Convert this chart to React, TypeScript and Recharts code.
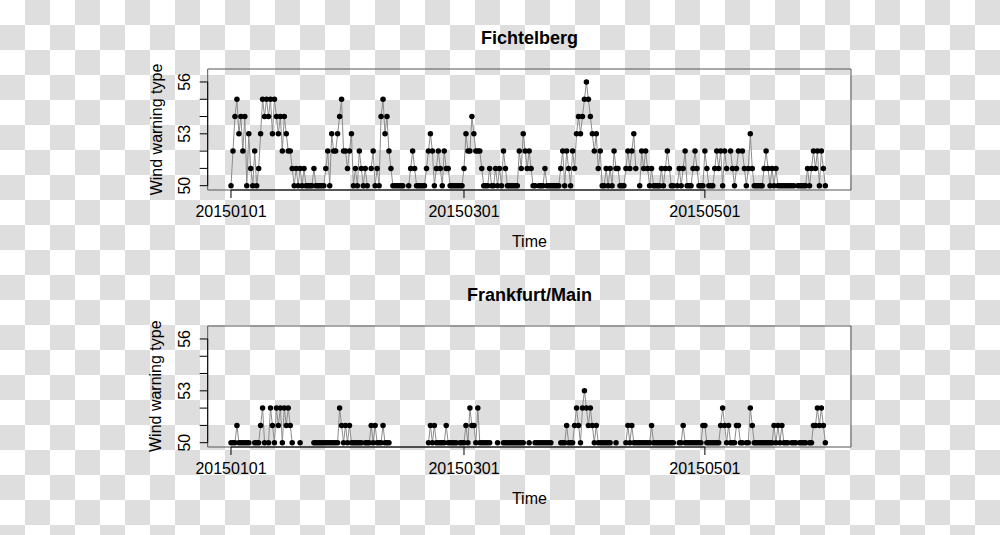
import { LineChart, Line, XAxis, YAxis, ReferenceArea, ReferenceLine } from "recharts"

// observations every 12 hours, t = days since 2015-01-01
const dateTicks = [0, 59, 120]
const dateLabels = ["20150101", "20150301", "20150501"]
const levelTicks = [50, 51, 52, 53, 54, 55, 56]
const labelledLevels = [50, 53, 56]

const fichtelbergJan = [
  50, 52, 54, 55, 53, 54, 52, 54, 50, 53,
  51, 50, 52, 50, 51, 53, 55, 54, 55, 54,
  55, 53, 55, 54, 53, 54, 52, 54, 53, 52,
  52, 51, 50, 51, 50, 51, 50, 51, 50, 50,
  50, 50, 51, 50, 50, 50, 50, 50, 51, 52,
  50, 53, 52, 52, 53, 54, 55, 52, 52, 51,
  52, 53,
]
const fichtelbergFeb = [
  50, 51, 50, 52, 51, 50, 51, 50, null, 51,
  52, 50, 51, 50, 54, 55, 53, 54, 52, 51,
  50, 50, 50, 50, 50, 50, null, null, 50, 51,
  52, 51, 50, 50, 50, 50, 50, 51, 52, 53,
  52, 50, 51, 52, 51, 50, 52, 51, 51, 50,
  50, 50, 50, 50, 50, 50,
]
const fichtelbergMar = [
  51, 53, 52, 52, 54, 53, 52, 52, 52, 51,
  50, 50, 50, 51, 50, 50, 51, 50, 51, 50,
  52, 51, 50, 50, 50, 50, 50, 50, 52, 51,
  53, 52, 51, 52, 51, 50, 50, null, 50, 50,
  50, 51, 50, 50, 50, 50, 50, 50, 50, 51,
  52, 50, 52, 51, 50, 52, 51, 53, 54, 53,
  54, 55,
]
const fichtelbergApr = [
  56, 55, 54, 53, 52, 53, 51, 52, 50, 50,
  51, 50, 51, 50, 52, 51, 51, 50, 50, 50,
  51, 52, 51, 52, 53, 51, null, 50, 52, 51,
  52, 51, 50, 51, 50, 50, 50, 50, 51, 50,
  51, 52, 51, 50, 50, null, 50, 51, 50, 51,
  52, 50, 50, 50, 51, 52, 51, 50, 50, 50,
]
const fichtelbergMay = [
  52, 51, 50, 50, 50, 51, 52, 51, 52, 50,
  52, 51, null, 52, 51, 50, 51, 52, null, 52,
  51, 50, 51, 53, 51, 50, 50, 50, 50, 50,
  51, 52, 51, 50, 51, 50, 51, 50, 50, 50,
  50, 50, 50, 50, 50, 50, null, 50, 50, 50,
  50, 50, 51, 50, 51, 52, 51, 52, 50, 52,
  51, 50,
]

const frankfurtJan = [
  50, 50, 50, 51, 50, 50, 50, 50, 50, 50,
  null, null, 50, 50, 50, 51, 52, 50, null, 50,
  52, 51, 50, 52, 51, 52, 50, 52, 51, 52,
  51, 50, null, null, null, 50, null, null, null, null,
  null, null, 50, 50, 50, 50, 50, 50, 50, 50,
  50, 50, 50, 50, 50, 52, 51, 50, 51, 50,
  51, 50,
]
const frankfurtFeb = [
  50, 50, 50, 50, 50, null, 50, 50, 50, 51,
  50, 51, 50, 50, 50, 51, 50, 50, 50, null,
  null, null, null, null, null, null, null, null, null, null,
  null, null, null, null, null, null, null, null, 50, 51,
  50, 51, 50, 50, 50, 50, 50, 51, 50, 50,
  50, 50, 50, null, 50, 50,
]
const frankfurtMar = [
  50, 51, 50, 52, 51, 51, 50, 52, 50, 50,
  50, 50, 50, 50, null, null, null, 50, null, null,
  50, 50, 50, 50, 50, 50, 50, 50, 50, 50,
  50, null, null, 50, null, null, 50, 50, 50, 50,
  50, 50, 50, 50, 50, null, null, null, null, 50,
  50, 50, 51, 50, 50, 50, 51, 52, 51, 50,
  52, 53,
]
const frankfurtApr = [
  52, 51, 52, 51, 50, 51, 50, 50, 50, 50,
  50, 50, 50, null, null, 50, null, null, null, null,
  50, 51, 50, 51, 50, 50, 50, 50, 50, 50,
  50, 50, 50, 51, 50, 50, 50, 50, 50, 50,
  50, 50, 50, 50, 50, null, null, 50, 50, 51,
  50, 50, 50, 50, 50, 50, 50, 50, 50, 51,
]
const frankfurtMay = [
  51, 50, 50, 50, 50, 50, 50, 50, 51, 52,
  51, 50, 51, 50, 50, 50, 51, 51, 50, 50,
  null, 50, 50, 52, 51, 50, 50, 50, 50, 50,
  50, 50, 50, 50, 50, 51, 50, 51, 50, 51,
  50, 50, 50, null, 50, 50, 50, null, 50, 50,
  50, 50, null, 50, 50, 51, 51, 52, 51, 52,
  51, 50,
]

const X_MIN = -5.9
const X_MAX = 157
const Y_MIN = 49.75
const Y_MAX = 56.75

const toRows = (values: (number | null)[]) => values.map((v, i) => ({ t: i / 2, v }))

const fichtelberg = toRows([...fichtelbergJan, ...fichtelbergFeb, ...fichtelbergMar, ...fichtelbergApr, ...fichtelbergMay])
const frankfurt = toRows([...frankfurtJan, ...frankfurtFeb, ...frankfurtMar, ...frankfurtApr, ...frankfurtMay])

const PANEL_GAP = 256.7

function LevelTick(props: any) {
  const { x, y, payload } = props
  if (!labelledLevels.includes(payload.value)) return <g />
  return (
    <text x={x} y={y} transform={`rotate(-90 ${x} ${y})`} textAnchor="middle" fontSize={16} fill="#000">
      {payload.value}
    </text>
  )
}

function Panel({ data, top }: { data: { t: number; v: number | null }[]; top: number }) {
  return (
    <div style={{ position: "absolute", left: 0, top, width: 1000, height: 267 }}>
      <LineChart width={1000} height={267} data={data} margin={{ top: 69, right: 149, bottom: 47, left: 147.7 }}>
        <XAxis
          dataKey="t"
          type="number"
          domain={[X_MIN, X_MAX]}
          allowDataOverflow
          ticks={dateTicks}
          interval={0}
          tickFormatter={(v: number) => dateLabels[dateTicks.indexOf(v)]}
          height={30}
          axisLine={false}
          tickSize={8}
          tickMargin={8}
          tickLine={{ stroke: "#000" }}
          tick={{ fill: "#000", fontSize: 16 }}
        />
        <YAxis
          type="number"
          domain={[Y_MIN, Y_MAX]}
          allowDataOverflow
          ticks={levelTicks}
          interval={0}
          width={60}
          axisLine={false}
          tickSize={8}
          tickMargin={10}
          tickLine={{ stroke: "#000" }}
          tick={<LevelTick />}
        />
        <ReferenceArea x1={X_MIN} x2={X_MAX} y1={Y_MIN} y2={Y_MAX} fill="none" fillOpacity={0} stroke="#555" ifOverflow="visible" />
        <ReferenceLine segment={[{ x: dateTicks[0], y: Y_MIN }, { x: dateTicks[2], y: Y_MIN }]} stroke="#000" ifOverflow="visible" />
        <ReferenceLine segment={[{ x: X_MIN, y: 50 }, { x: X_MIN, y: 56 }]} stroke="#000" ifOverflow="visible" />
        <Line
          dataKey="v"
          type="linear"
          stroke="#8c8c8c"
          strokeWidth={1}
          dot={{ r: 2.75, fill: "#000", stroke: "none" }}
          activeDot={false}
          connectNulls={false}
          isAnimationActive={false}
        />
      </LineChart>
    </div>
  )
}

export default function App() {
  const panels = [
    { title: "Fichtelberg", data: fichtelberg },
    { title: "Frankfurt/Main", data: frankfurt },
  ]
  return (
    <div
      style={{
        position: "absolute",
        left: 0,
        top: 0,
        width: 1000,
        height: 535,
        overflow: "hidden",
        fontFamily: "'Liberation Sans', Arial, sans-serif",
        backgroundImage: "repeating-conic-gradient(#dedede 0 25%, #ffffff 0 50%)",
        backgroundSize: "50px 50px",
      }}
    >
      {panels.map((p, i) => (
        <Panel key={p.title} data={p.data} top={i * PANEL_GAP} />
      ))}
      <svg width={1000} height={535} style={{ position: "absolute", left: 0, top: 0, pointerEvents: "none" }}>
        {panels.map((p, i) => {
          const dy = i * PANEL_GAP
          return (
            <g key={p.title}>
              <text x={529.4} y={44 + dy} textAnchor="middle" fontSize={18} fontWeight="bold" fill="#000">
                {p.title}
              </text>
              <text x={529.4} y={247 + dy} textAnchor="middle" fontSize={16} fill="#000">
                Time
              </text>
              <text
                x={161.5}
                y={129.5 + dy}
                transform={`rotate(-90 161.5 ${129.5 + dy})`}
                textAnchor="middle"
                fontSize={16}
                fill="#000"
              >
                Wind warning type
              </text>
            </g>
          )
        })}
      </svg>
    </div>
  )
}
